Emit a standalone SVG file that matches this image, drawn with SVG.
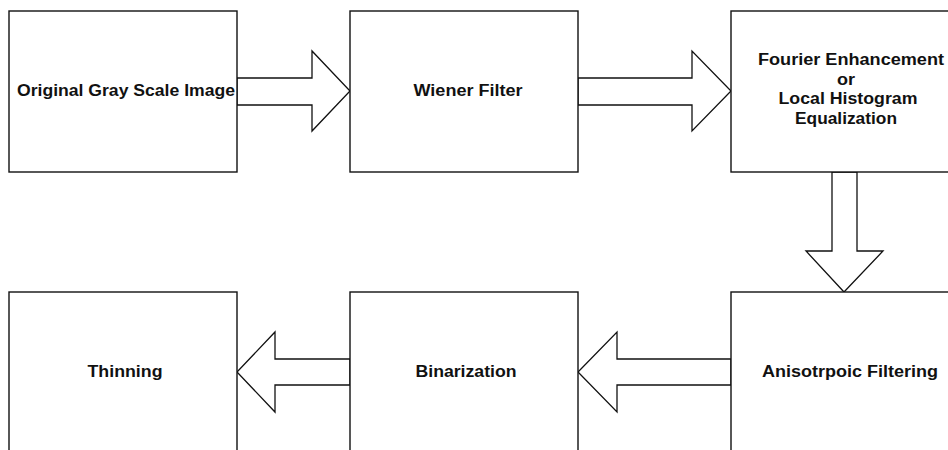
<svg xmlns="http://www.w3.org/2000/svg" width="948" height="450" viewBox="0 0 948 450">
<style>
.box{fill:#fff;stroke:#111;stroke-width:1.4}
.arr{fill:#fff;stroke:#111;stroke-width:1.3;stroke-linejoin:miter}
.t{font-family:"Liberation Sans",Arial,sans-serif;font-weight:bold;font-size:16px;fill:#111;text-anchor:middle}
</style>
<rect width="948" height="450" fill="#fff"/>
<g id="connectors">
<polygon class="arr" points="237,78 312,78 312,51 350,91 312,131 312,105 237,105"/>
<polygon class="arr" points="578,78 692,78 692,51 731,91 692,131 692,105 578,105"/>
<polygon class="arr" points="832,172 832,251 806,251 844,292 883,251 857,251 857,172"/>
<polygon class="arr" points="731,359 617,359 617,332 578,372 617,412 617,385 731,385"/>
<polygon class="arr" points="350,359 275,359 275,332 237,372 275,412 275,385 350,385"/>
</g>
<g id="n1"><rect class="box" x="9" y="11" width="228" height="161"/><text class="t" x="126" y="96" textLength="218" lengthAdjust="spacingAndGlyphs">Original Gray Scale Image</text></g>
<g id="n2"><rect class="box" x="350" y="11" width="228" height="161"/><text class="t" x="468" y="96" textLength="109" lengthAdjust="spacingAndGlyphs">Wiener Filter</text></g>
<g id="n3"><rect class="box" x="731" y="11" width="228" height="161"/><text class="t" x="851" y="65" textLength="186" lengthAdjust="spacingAndGlyphs">Fourier Enhancement</text><text class="t" x="846" y="84.5" textLength="18" lengthAdjust="spacingAndGlyphs">or</text><text class="t" x="848" y="104" textLength="139" lengthAdjust="spacingAndGlyphs">Local Histogram</text><text class="t" x="846" y="123.5" textLength="102" lengthAdjust="spacingAndGlyphs">Equalization</text></g>
<g id="n4"><rect class="box" x="9" y="292" width="228" height="170"/><text class="t" x="125" y="377" textLength="75" lengthAdjust="spacingAndGlyphs">Thinning</text></g>
<g id="n5"><rect class="box" x="350" y="292" width="228" height="170"/><text class="t" x="466" y="377" textLength="101" lengthAdjust="spacingAndGlyphs">Binarization</text></g>
<g id="n6"><rect class="box" x="731" y="292" width="228" height="170"/><text class="t" x="850" y="377" textLength="176" lengthAdjust="spacingAndGlyphs">Anisotrpoic Filtering</text></g>
</svg>
